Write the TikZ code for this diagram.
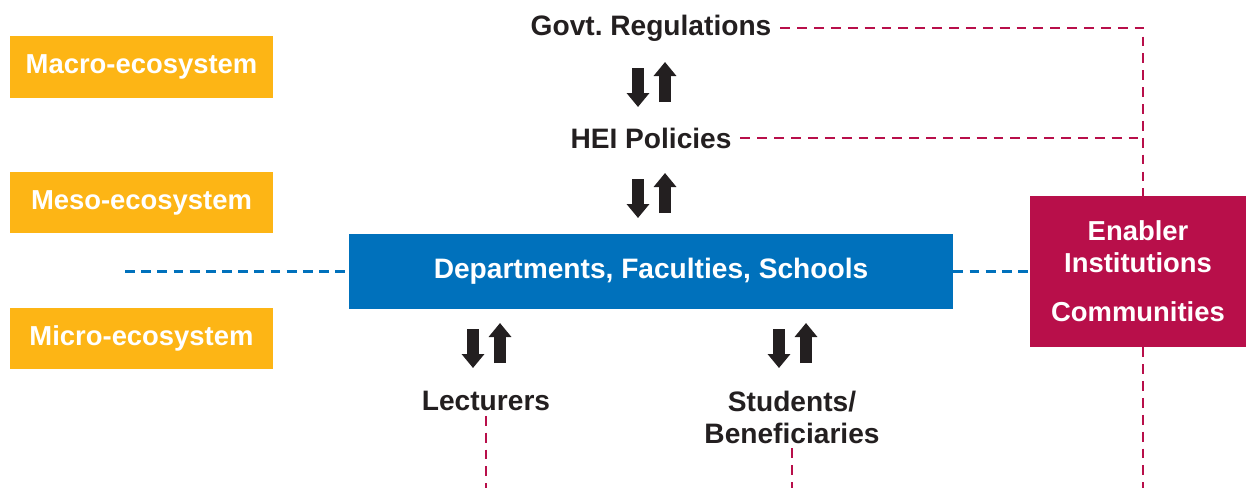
\documentclass[tikz,border=0pt]{standalone}
\usepackage{fontspec}
\setmainfont{Liberation Sans}
\frenchspacing
\definecolor{ecoorange}{HTML}{FDB515}
\definecolor{deptblue}{HTML}{0071BC}
\definecolor{enablered}{HTML}{B80F4A}
\definecolor{inkgray}{HTML}{231F20}
\usetikzlibrary{arrows.meta}
\tikzset{
  lbl/.style={font=\fontsize{20}{22.7}\selectfont\bfseries, text=inkgray, align=center},
  level/.style={fill=ecoorange, text=white, font=\fontsize{19.5}{22}\selectfont\bfseries,
    minimum width=6.575cm, minimum height=1.525cm},
  flow/.style={draw=inkgray, line width=0.3cm, -{Triangle[width=0.55cm,length=0.35cm]}},
  reddash/.style={draw=enablered, line width=1.8pt, dash pattern=on 7pt off 5pt},
  bluedash/.style={draw=deptblue, line width=1.9pt, dash pattern=on 7pt off 4.5pt},
}
\begin{document}
\begin{tikzpicture}[x=0.025cm, y=-0.025cm]
\useasboundingbox (0,0) rectangle (1246,488);

\node[level] (ma) at (141.5,67) {Macro-ecosystem};
\node[level] (me) at (141.5,202.5) {Meso-ecosystem};
\node[level] (mi) at (141.5,338.5) {Micro-ecosystem};

\node[lbl] (g) at (651,28) {Govt. Regulations};
\node[lbl] (h) at (651,138) {HEI Policies};
\node[fill=deptblue, text=white, font=\fontsize{20}{22}\selectfont\bfseries,
  minimum width=15.1cm, minimum height=1.875cm] (d) at (651,271.5) {Departments, Faculties, Schools};
\node[lbl] (l) at (486,401) {Lecturers};
\node[lbl] (s) at (792,417) {Students/\\Beneficiaries};
\node[fill=enablered, text=white, font=\fontsize{19.5}{22.7}\selectfont\bfseries, align=center,
  minimum width=5.4cm, minimum height=3.775cm] (e) at (1138,271.5) {Enabler\\Institutions\\[0.42cm]Communities};

\foreach \x/\y in {651/62, 651/173, 486/323, 792/323} {
  \draw[flow] (\x-13,\y+6) -- (\x-13,\y+45);
  \draw[flow] (\x+14,\y+40) -- (\x+14,\y);
}

\coordinate (lft) at (125,271.5);
\coordinate (bot) at (0,488);
\draw[bluedash] (lft) -- (d.west);
\draw[bluedash] (d.east) -- (e.west);
\draw[reddash] ([xshift=0.1cm]g.east) -| ([xshift=0.125cm]e.north);
\draw[reddash] ([xshift=0.1cm]h.east) -- ([xshift=0.125cm]h.east -| e.north);
\draw[reddash] ([xshift=0.125cm]e.south) -- ([xshift=0.125cm]e.south |- bot);
\draw[reddash] (l.south) -- (l.south |- bot);
\draw[reddash] (s.south) -- (s.south |- bot);
\end{tikzpicture}
\end{document}
